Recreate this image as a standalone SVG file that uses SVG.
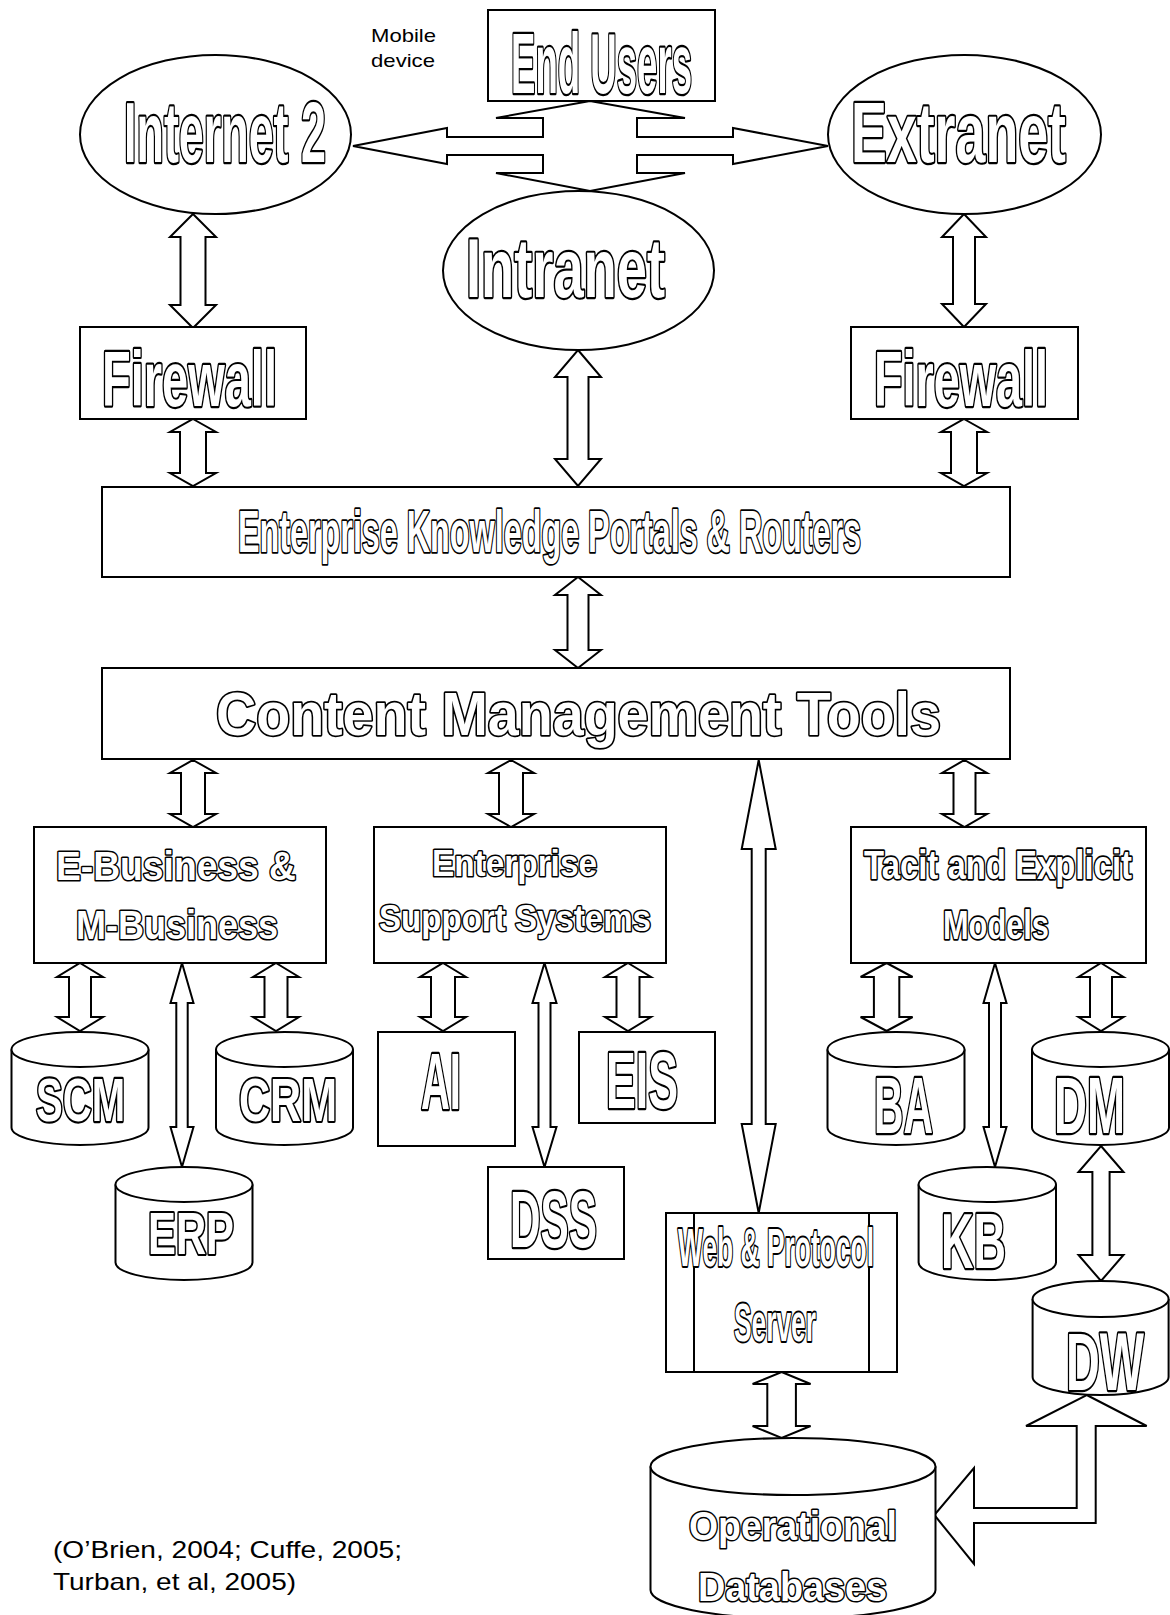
<svg xmlns="http://www.w3.org/2000/svg" width="1170" height="1615" viewBox="0 0 1170 1615">
<style>
.s{fill:#fff;stroke:#000;stroke-width:2}
.n{fill:none;stroke:#000;stroke-width:2}
.t{font-family:"Liberation Sans",Arial,sans-serif;font-weight:bold;fill:#fff;stroke:#000;stroke-width:3.6;paint-order:stroke;stroke-linejoin:round;vector-effect:non-scaling-stroke}
.w{font-family:"Liberation Sans",Arial,sans-serif;font-weight:bold;fill:#fff;stroke:#000;stroke-width:3.4;paint-order:stroke;stroke-linejoin:round}
.m{stroke-width:3}
.p{font-family:"Liberation Sans",Arial,sans-serif;fill:#000}
</style>
<rect width="1170" height="1615" fill="#fff"/>
<g id="connectors" class="s">
<polygon points="353,146 447,128 447,137 543,137 543,118 496,118 590,101 685,118 637,118 637,137 733,137 733,128 828,146 733,164 733,155 637,155 637,173 685,173 590,191 496,173 543,173 543,155 447,155 447,164"/>
<polygon points="193,214 216,237 205.5,237 205.5,305 216,305 193,328 170,305 180.5,305 180.5,237 170,237"/>
<polygon points="964,214 986,237 975,237 975,304 986,304 964,327 942,304 953,304 953,237 942,237"/>
<polygon points="193,419 216,432 206,432 206,473 216,473 193,486 170,473 180,473 180,432 170,432"/>
<polygon points="578,350 601,377 588.5,377 588.5,459 601,459 578,486 555,459 567.5,459 567.5,377 555,377"/>
<polygon points="964,419 987,432 977,432 977,473 987,473 964,486 941,473 951,473 951,432 941,432"/>
<polygon points="578,577 601,595 588.5,595 588.5,650 601,650 578,668 555,650 567.5,650 567.5,595 555,595"/>
<polygon points="193,760 216,773 205,773 205,814 216,814 193,827 170,814 181,814 181,773 170,773"/>
<polygon points="511,760 534,773 523,773 523,814 534,814 511,827 488,814 499,814 499,773 488,773"/>
<polygon points="964.5,760 987,773 975.5,773 975.5,814 987,814 964.5,827 942,814 953.5,814 953.5,773 942,773"/>
<polygon points="758.7,760 775.7,849 765.7,849 765.7,1124 775.7,1124 758.7,1213 741.7,1124 751.7,1124 751.7,849 741.7,849"/>
<polygon points="80,963 103,977 91,977 91,1017 103,1017 80,1031 57,1017 69,1017 69,977 57,977"/>
<polygon points="182,963 193.5,1003 187.7,1003 187.7,1127 193.5,1127 182,1167 170.5,1127 176.3,1127 176.3,1003 170.5,1003"/>
<polygon points="276,963 299,977 287.5,977 287.5,1017 299,1017 276,1031 253,1017 264.5,1017 264.5,977 253,977"/>
<polygon points="443,963 466,977 455,977 455,1017 466,1017 443,1031 420,1017 431,1017 431,977 420,977"/>
<polygon points="544.5,963 556.5,1003 550.5,1003 550.5,1127 556.5,1127 544.5,1167 532.5,1127 538.5,1127 538.5,1003 532.5,1003"/>
<polygon points="628,963 651,977 639.5,977 639.5,1017 651,1017 628,1031 605,1017 616.5,1017 616.5,977 605,977"/>
<polygon points="886.6,963 912.6,977 899.3,977 899.3,1017 912.6,1017 886.6,1031 860.6,1017 873.9,1017 873.9,977 860.6,977"/>
<polygon points="995,963 1006.5,1003 1001,1003 1001,1127 1006.5,1127 995,1167 983.5,1127 989,1127 989,1003 983.5,1003"/>
<polygon points="1101,963 1123.5,977 1112,977 1112,1017 1123.5,1017 1101,1031 1078.5,1017 1090,1017 1090,977 1078.5,977"/>
<polygon points="1101,1146 1123.5,1172 1109.6,1172 1109.6,1255 1123.5,1255 1101,1281 1078.5,1255 1092.4,1255 1092.4,1172 1078.5,1172"/>
<polygon points="781.6,1372 810.6,1384 795.9,1384 795.9,1426 810.6,1426 781.6,1438 752.6,1426 767.3,1426 767.3,1384 752.6,1384"/>
<polygon points="1086.7,1395 1146.7,1426 1095.7,1426 1095.7,1523 974,1523 974,1564 934.3,1515 974,1468 974,1508 1076.7,1508 1076.7,1426 1026,1426"/>
</g>
<g id="end-users"><rect class="s" x="488" y="10" width="227" height="91"/><text class="t" x="511" y="93" font-size="36.6" transform="matrix(1 0 0 2.32 0 -122.76)" textLength="181" lengthAdjust="spacingAndGlyphs">End Users</text></g>
<g id="mobile-device"><text class="p" x="371" y="42" font-size="19" textLength="65" lengthAdjust="spacingAndGlyphs">Mobile</text><text class="p" x="371" y="67" font-size="19" textLength="64" lengthAdjust="spacingAndGlyphs">device</text></g>
<g id="internet2"><ellipse class="s" cx="215.5" cy="134.5" rx="135.5" ry="79.5"/><text class="t" x="124" y="162" font-size="44.9" transform="matrix(1 0 0 1.916 0 -148.39)" textLength="202" lengthAdjust="spacingAndGlyphs">Internet 2</text></g>
<g id="extranet"><ellipse class="s" cx="964.5" cy="134.5" rx="136.5" ry="79.5"/><text class="t" x="851" y="162" font-size="53.7" transform="matrix(1 0 0 1.601 0 -97.36)" textLength="215" lengthAdjust="spacingAndGlyphs">Extranet</text></g>
<g id="intranet"><ellipse class="s" cx="578.5" cy="270.5" rx="135.5" ry="79.5"/><text class="t" x="466" y="297" font-size="54.3" transform="matrix(1 0 0 1.547 0 -162.46)" textLength="199" lengthAdjust="spacingAndGlyphs">Intranet</text></g>
<g id="firewall-left"><rect class="s" x="80" y="327" width="226" height="92"/><text class="t" x="102" y="406" font-size="47" transform="matrix(1 0 0 1.66 0 -267.96)" textLength="175" lengthAdjust="spacingAndGlyphs">Firewall</text></g>
<g id="firewall-right"><rect class="s" x="851" y="327" width="227" height="92"/><text class="t" x="874" y="406" font-size="46.7" transform="matrix(1 0 0 1.67 0 -272.02)" textLength="174" lengthAdjust="spacingAndGlyphs">Firewall</text></g>
<g id="ekp"><rect class="s" x="102" y="487" width="908" height="90"/><text class="t m" x="238" y="552" font-size="32.3" transform="matrix(1 0 0 1.826 0 -455.95)" textLength="623" lengthAdjust="spacingAndGlyphs">Enterprise Knowledge Portals &amp; Routers</text></g>
<g id="cmt"><rect class="s" x="102" y="668" width="908" height="91"/><text class="w" x="216" y="735" font-size="61" textLength="725" lengthAdjust="spacingAndGlyphs">Content Management Tools</text></g>
<g id="ebusiness"><rect class="s" x="34" y="827" width="292" height="136"/><text class="w m" x="56" y="880" font-size="41" textLength="240" lengthAdjust="spacingAndGlyphs">E-Business &amp;</text><text class="w m" x="76" y="939" font-size="41" textLength="202" lengthAdjust="spacingAndGlyphs">M-Business</text></g>
<g id="ess"><rect class="s" x="374" y="827" width="292" height="136"/><text class="w m" x="432" y="876" font-size="36" textLength="165" lengthAdjust="spacingAndGlyphs">Enterprise</text><text class="w m" x="379" y="931" font-size="36" textLength="272" lengthAdjust="spacingAndGlyphs">Support Systems</text></g>
<g id="tacit"><rect class="s" x="851" y="827" width="295" height="136"/><text class="t m" x="864" y="879" font-size="32.6" transform="matrix(1 0 0 1.258 0 -226.78)" textLength="268" lengthAdjust="spacingAndGlyphs">Tacit and Explicit</text><text class="t m" x="943" y="939" font-size="30.8" transform="matrix(1 0 0 1.33 0 -309.87)" textLength="106" lengthAdjust="spacingAndGlyphs">Models</text></g>
<g id="scm"><path class="s" d="M11.5,1049.5 V1127.5 A68.5,17.5 0 0 0 148.5,1127.5 V1049.5"/><ellipse class="s" cx="80" cy="1049.5" rx="68.5" ry="17.5"/><text class="t" x="36" y="1121" font-size="40.05" transform="matrix(1 0 0 1.523 0 -586.28)" textLength="89" lengthAdjust="spacingAndGlyphs">SCM</text></g>
<g id="crm"><path class="s" d="M216,1049.5 V1127.5 A68.5,17.5 0 0 0 353,1127.5 V1049.5"/><ellipse class="s" cx="284.5" cy="1049.5" rx="68.5" ry="17.5"/><text class="t" x="239" y="1121" font-size="43" transform="matrix(1 0 0 1.418 0 -468.58)" textLength="98" lengthAdjust="spacingAndGlyphs">CRM</text></g>
<g id="erp"><path class="s" d="M115.5,1184.5 V1262.5 A68.5,17.5 0 0 0 252.5,1262.5 V1184.5"/><ellipse class="s" cx="184" cy="1184.5" rx="68.5" ry="17.5"/><text class="t" x="148" y="1254" font-size="41.8" transform="matrix(1 0 0 1.41 0 -514.14)" textLength="86" lengthAdjust="spacingAndGlyphs">ERP</text></g>
<g id="ai"><rect class="s" x="378" y="1032" width="137" height="114"/><text class="t" x="421" y="1109" font-size="40" transform="matrix(1 0 0 1.975 0 -1081.28)" textLength="40" lengthAdjust="spacingAndGlyphs">AI</text></g>
<g id="eis"><rect class="s" x="579" y="1032" width="136" height="91"/><text class="t" x="606" y="1108" font-size="44.7" transform="matrix(1 0 0 1.768 0 -850.94)" textLength="72" lengthAdjust="spacingAndGlyphs">EIS</text></g>
<g id="dss"><rect class="s" x="488" y="1167" width="136" height="92"/><text class="t" x="510" y="1247" font-size="42.3" transform="matrix(1 0 0 1.867 0 -1081.15)" textLength="87" lengthAdjust="spacingAndGlyphs">DSS</text></g>
<g id="ba"><path class="s" d="M827.5,1049.5 V1127.5 A68.5,17.5 0 0 0 964.5,1127.5 V1049.5"/><ellipse class="s" cx="896" cy="1049.5" rx="68.5" ry="17.5"/><text class="t" x="874" y="1133" font-size="40.9" transform="matrix(1 0 0 1.93 0 -1053.69)" textLength="59" lengthAdjust="spacingAndGlyphs">BA</text></g>
<g id="dm"><path class="s" d="M1032,1049.5 V1127.5 A68.5,17.5 0 0 0 1169,1127.5 V1049.5"/><ellipse class="s" cx="1100.5" cy="1049.5" rx="68.5" ry="17.5"/><text class="t" x="1054" y="1133" font-size="45.7" transform="matrix(1 0 0 1.73 0 -827.09)" textLength="71" lengthAdjust="spacingAndGlyphs">DM</text></g>
<g id="kb"><path class="s" d="M918.6,1184.5 V1262.5 A68.7,17.5 0 0 0 1056,1262.5 V1184.5"/><ellipse class="s" cx="987.3" cy="1184.5" rx="68.7" ry="17.5"/><text class="t" x="941" y="1268" font-size="45" transform="matrix(1 0 0 1.71 0 -900.28)" textLength="65" lengthAdjust="spacingAndGlyphs">KB</text></g>
<g id="dw"><path class="s" d="M1032.6,1299 V1377 A68,18 0 0 0 1168.6,1377 V1299"/><ellipse class="s" cx="1100.6" cy="1299" rx="68" ry="18"/><text class="t" x="1066" y="1390" font-size="46.8" transform="matrix(1 0 0 1.752 0 -1045.28)" textLength="78" lengthAdjust="spacingAndGlyphs">DW</text></g>
<g id="web-server"><rect class="s" x="666" y="1213" width="231" height="159"/><line class="n" x1="694" y1="1213" x2="694" y2="1372"/><line class="n" x1="869" y1="1213" x2="869" y2="1372"/><text class="t m" x="678" y="1266" font-size="26.3" transform="matrix(1 0 0 2.015 0 -1284.99)" textLength="196" lengthAdjust="spacingAndGlyphs">Web &amp; Protocol</text><text class="t m" x="734" y="1341" font-size="26.3" transform="matrix(1 0 0 2.015 0 -1361.12)" textLength="82" lengthAdjust="spacingAndGlyphs">Server</text></g>
<g id="operational-db"><path class="s" d="M650.5,1466.5 V1590 A142.5,28.5 0 0 0 935.5,1590 V1466.5"/><ellipse class="s" cx="793" cy="1466.5" rx="142.5" ry="28.5"/><text class="w m" x="689" y="1540" font-size="41" textLength="208" lengthAdjust="spacingAndGlyphs">Operational</text><text class="w m" x="698" y="1601" font-size="41" textLength="189" lengthAdjust="spacingAndGlyphs">Databases</text></g>
<g id="citation"><text class="p" x="53" y="1558" font-size="24" textLength="349" lengthAdjust="spacingAndGlyphs">(O’Brien, 2004; Cuffe, 2005;</text><text class="p" x="53" y="1590" font-size="24" textLength="243" lengthAdjust="spacingAndGlyphs">Turban, et al, 2005)</text></g>
</svg>
